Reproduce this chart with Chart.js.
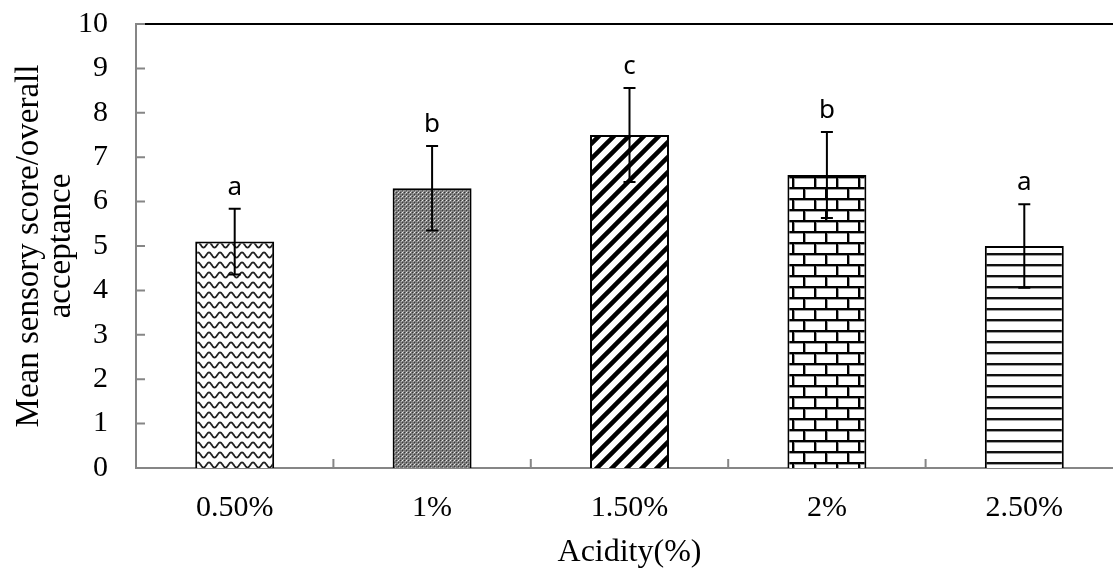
<!DOCTYPE html>
<html lang="en">
<head>
  <meta charset="UTF-8" />
  <title>Acidity sensory score</title>
  <script src="https://cdn.jsdelivr.net/npm/chart.js"></script>
  <style>
    html, body { margin: 0; padding: 0; background: #fff; overflow: hidden; }
    .chart-box { width: 1123px; height: 570px; position: relative; }
  </style>
</head>
<body>
  <div class="chart-box"><canvas id="chart"></canvas></div>

  <script>
    // data
    const categories = ['0.50%', '1%', '1.50%', '2%', '2.50%'];
    const meanScores = [5.1, 6.3, 7.5, 6.6, 5.0];
    const errors = [0.74, 0.95, 1.06, 0.97, 0.94];
    const letters = ['a', 'b', 'c', 'b', 'a'];
    const yTicks = [0, 1, 2, 3, 4, 5, 6, 7, 8, 9, 10];

    const serif = '"Liberation Serif", "Times New Roman", serif';
    const axisGray = '#868686';

    // small tiles used as fill patterns for the bars
    function makePattern(w, h, draw) {
      const c = document.createElement('canvas');
      c.width = w; c.height = h;
      const g = c.getContext('2d');
      g.fillStyle = '#fff';
      g.fillRect(0, 0, w, h);
      draw(g, w, h);
      return g.createPattern(c, 'repeat');
    }

    const wave = makePattern(11, 10, (g, w, h) => {
      g.strokeStyle = '#222';
      g.lineWidth = 1.8;
      g.beginPath();
      for (let x = -1; x <= w + 1; x += 0.5) {
        const y = 5 - 2.6 * Math.cos(2 * Math.PI * x / w);
        if (x === -1) g.moveTo(x, y); else g.lineTo(x, y);
      }
      g.stroke();
    });

    const checker = makePattern(4, 4, (g) => {
      g.fillStyle = '#7a7a7a'; g.fillRect(0, 0, 4, 4);
      g.fillStyle = '#3a3a3a'; g.fillRect(0, 0, 1, 1); g.fillRect(2, 2, 1, 1);
      g.fillStyle = '#b8b8b8'; g.fillRect(1, 1, 1, 1); g.fillRect(3, 3, 1, 1);
      g.fillStyle = '#e8e8e8'; g.fillRect(2, 0, 1, 1);
    });

    const diagonal = makePattern(15, 15, (g, w, h) => {
      g.strokeStyle = '#000';
      g.lineWidth = 4.5;
      g.beginPath();
      [-w, 0, w].forEach(k => { g.moveTo(k - 2, h + 2); g.lineTo(k + w + 2, -2); });
      g.stroke();
    });

    const brick = makePattern(22, 22, (g) => {
      g.fillStyle = '#9a9a9a';
      g.fillRect(0, 2, 22, 1); g.fillRect(0, 13, 22, 1);
      g.fillRect(2, 0, 1, 11); g.fillRect(13, 11, 1, 11);
      g.fillStyle = '#000';
      g.fillRect(0, 0, 22, 2); g.fillRect(0, 11, 22, 2);
      g.fillRect(0, 0, 2, 11); g.fillRect(11, 11, 2, 11);
    });

    const hlines = makePattern(4, 11, (g) => {
      g.fillStyle = '#111'; g.fillRect(0, 0, 4, 2);
      g.fillStyle = '#a0a0a0'; g.fillRect(0, 2, 4, 1);
    });

    // error bars, letters, inward tick marks and the top frame line
    const extras = {
      id: 'extras',
      afterDatasetsDraw(chart) {
        const ctx = chart.ctx;
        const y = chart.scales.y;
        const meta = chart.getDatasetMeta(0);
        ctx.save();
        ctx.strokeStyle = '#000';
        ctx.lineWidth = 2;
        meta.data.forEach((bar, i) => {
          const top = y.getPixelForValue(meanScores[i] + errors[i]);
          const bot = y.getPixelForValue(meanScores[i] - errors[i]);
          ctx.beginPath();
          ctx.moveTo(bar.x, top); ctx.lineTo(bar.x, bot);
          ctx.moveTo(bar.x - 6, top); ctx.lineTo(bar.x + 6, top);
          ctx.moveTo(bar.x - 6, bot); ctx.lineTo(bar.x + 6, bot);
          ctx.stroke();

          ctx.fillStyle = '#000';
          ctx.font = '26px "Noto Sans", "Open Sans", sans-serif';
          ctx.textAlign = 'center';
          ctx.textBaseline = 'alphabetic';
          ctx.fillText(letters[i], bar.x, top - 14);
        });
        ctx.restore();
      },
      afterDraw(chart) {
        const ctx = chart.ctx;
        const { x, y } = chart.scales;
        const area = chart.chartArea;
        ctx.save();
        ctx.strokeStyle = axisGray;
        ctx.lineWidth = 2;
        ctx.beginPath();
        yTicks.forEach(v => {
          const py = y.getPixelForValue(v);
          ctx.moveTo(area.left, py); ctx.lineTo(area.left + 9, py);
        });
        for (let i = 1; i < categories.length; i++) {
          const px = (x.getPixelForValue(i - 1) + x.getPixelForValue(i)) / 2;
          ctx.moveTo(px, area.bottom); ctx.lineTo(px, area.bottom - 9);
        }
        ctx.stroke();

        ctx.strokeStyle = '#000';
        ctx.beginPath();
        ctx.moveTo(area.left + 9, area.top); ctx.lineTo(area.right, area.top);
        ctx.stroke();
        ctx.restore();
      }
    };

    new Chart(document.getElementById('chart'), {
      type: 'bar',
      data: {
        labels: categories,
        datasets: [{
          data: meanScores,
          backgroundColor: [wave, checker, diagonal, brick, hlines],
          borderColor: '#000',
          borderWidth: 2,
          categoryPercentage: 1,
          barPercentage: 0.4,
        }],
      },
      options: {
        responsive: true,
        maintainAspectRatio: false,
        animation: false,
        layout: { padding: { top: 24, left: 0, right: 0, bottom: 0 } },
        plugins: {
          legend: { display: false },
          tooltip: { enabled: false },
        },
        scales: {
          x: {
            grid: { display: false, drawTicks: false },
            border: { display: true, color: axisGray, width: 2 },
            ticks: {
              color: '#000',
              padding: 22,
              font: { family: serif, size: 30 },
            },
            title: {
              display: true,
              text: 'Acidity(%)',
              color: '#000',
              padding: { top: 0, bottom: 0 },
              font: { family: serif, size: 32, lineHeight: 1.1 },
            },
            afterFit(scale) {
              scale.height = 102;
              scale.paddingLeft = 0;
              scale.paddingRight = 0;
            },
          },
          y: {
            min: 0,
            max: 10,
            afterBuildTicks(scale) { scale.ticks = yTicks.map(v => ({ value: v })); },
            grid: { display: false, drawTicks: false },
            border: { display: true, color: axisGray, width: 2 },
            ticks: {
              color: '#000',
              padding: 28,
              font: { family: serif, size: 30 },
            },
            title: {
              display: true,
              text: ['Mean sensory score/overall', 'acceptance'],
              color: '#000',
              padding: { top: 14, bottom: 0 },
              font: { family: serif, size: 33, lineHeight: 0.95 },
            },
            afterFit(scale) {
              scale.width = 136;
              scale.paddingTop = 0;
              scale.paddingBottom = 0;
            },
          },
        },
      },
      plugins: [extras],
    });
  </script>
</body>
</html>
